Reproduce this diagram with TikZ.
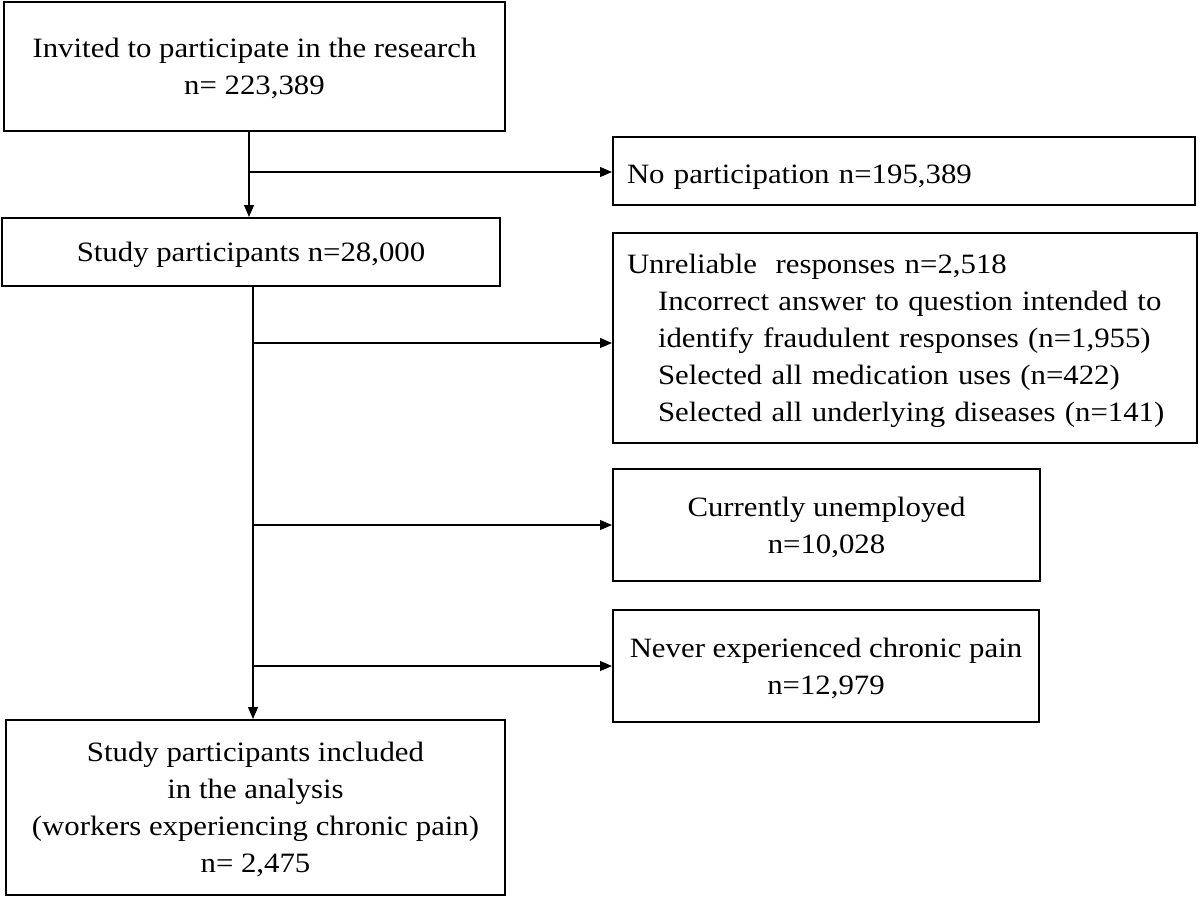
\documentclass[tikz,border=0pt]{standalone}
\usepackage{fontspec}
\setmainfont{Liberation Serif}[FakeStretch=1.1]
\usetikzlibrary{arrows.meta,calc}
\begin{document}
\begin{tikzpicture}[x=1pt,y=-1pt,
  box/.style={draw=black,line width=2pt,rectangle,inner sep=0pt,align=center,text depth=0pt,font=\fontsize{28}{37}\selectfont},
  lbox/.style={box,align=left,inner xsep=14pt},
  arr/.style={draw=black,line width=1.1pt,-{Triangle[length=12pt,width=10pt]}}]
\useasboundingbox (0,0) rectangle (1200,897);
% left column
\node[box,minimum width=501pt,minimum height=129pt] (b1) at (254.5,66.5)
  {Invited to participate in the research\\n= 223,389};
\node[box,minimum width=498pt,minimum height=68pt] (b2) at (251,252)
  {Study participants n=28,000};
\node[box,minimum width=499pt,minimum height=175pt] (b3) at (255.5,807.5)
  {Study participants included\\in the analysis\\(workers experiencing chronic pain)\\n= 2,475};
% right column
\node[lbox,text width=554pt,text height=25pt,minimum height=68pt] (r1) at (904,171)
  {No participation n=195,389};
\node[lbox,text width=556pt,text height=19pt,text depth=148pt,minimum height=210pt] (r2) at (905,338)
  {Unreliable\ \ responses n=2,518\\
   \hspace*{31pt}Incorrect answer to question intended to\\
   \hspace*{31pt}identify fraudulent responses (n=1,955)\\
   \hspace*{31pt}Selected all medication uses (n=422)\\
   \hspace*{31pt}Selected all underlying diseases (n=141)};
\node[box,minimum width=427pt,minimum height=112pt] (r3) at (826.5,525)
  {Currently unemployed\\n=10,028};
\node[box,minimum width=426pt,minimum height=112pt] (r4) at (826,666)
  {Never experienced chronic pain\\n=12,979};
% connectors
\coordinate (v1) at (249,0);
\coordinate (v2) at (253,0);
\coordinate (j1) at (249,172);
\coordinate (j2) at (253,343);
\coordinate (j3) at (253,525);
\coordinate (j4) at (253,666);
\draw[arr] (b1.south -| v1) -- (b2.north -| v1);
\draw[arr] (j1) -- (j1 -| r1.west);
\draw[arr] (b2.south -| v2) -- (b3.north -| v2);
\draw[arr] (j2) -- (j2 -| r2.west);
\draw[arr] (j3) -- (j3 -| r3.west);
\draw[arr] (j4) -- (j4 -| r4.west);
\end{tikzpicture}
\end{document}
